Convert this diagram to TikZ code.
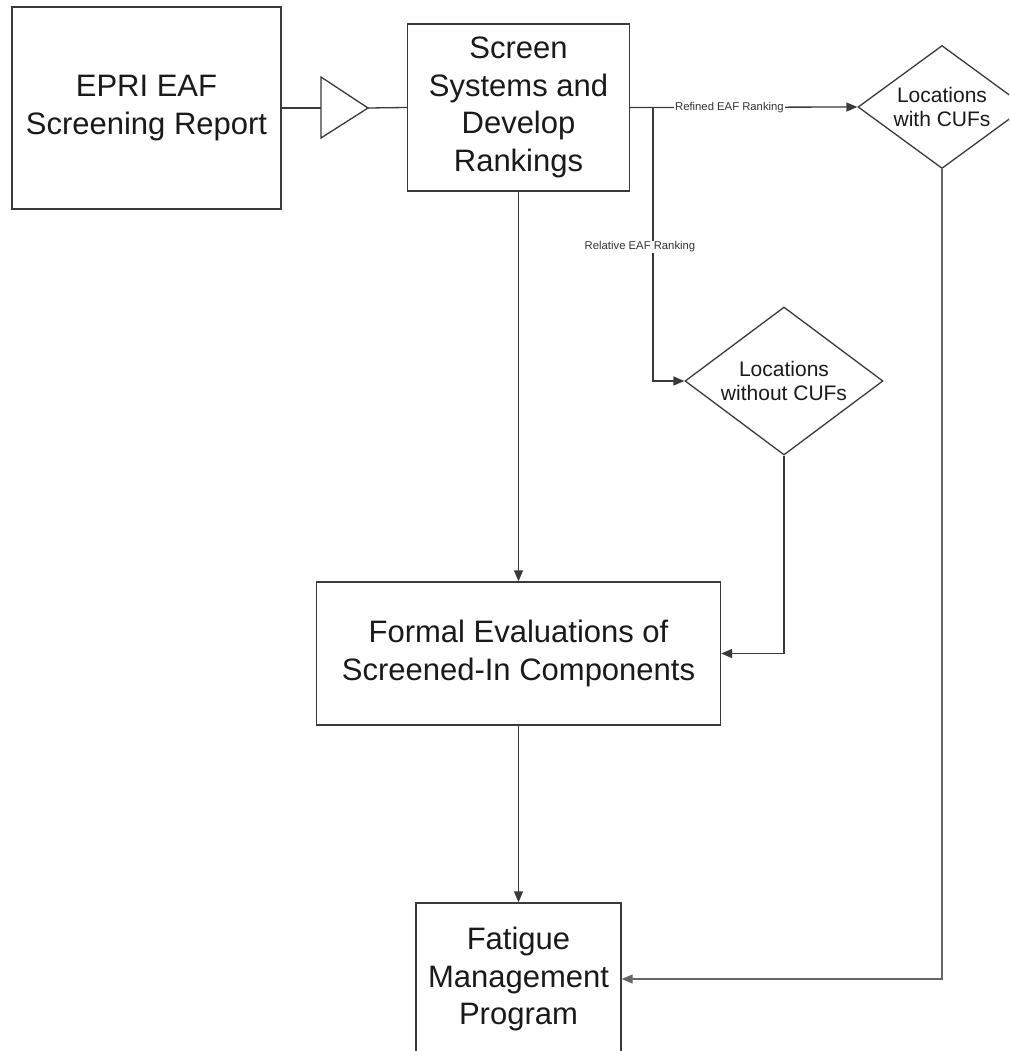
\documentclass[tikz,border=0pt]{standalone}
\usepackage{fontspec}
\setmainfont{Liberation Sans}
\usetikzlibrary{shapes.geometric,arrows.meta}
\definecolor{linec}{HTML}{3A3A3A}
\definecolor{textc}{HTML}{1A1A1A}
\begin{document}
\begin{tikzpicture}[x=1pt,y=-1pt,
  every node/.style={text=textc},
  bigbox/.style={draw=linec,line width=1.3pt,rectangle,inner sep=0pt,align=center,
    font=\fontsize{31}{37.5}\selectfont},
  dia/.style={draw=linec,line width=1.3pt,diamond,aspect=1.35,inner sep=0pt,align=center,
    font=\fontsize{21}{24.5}\selectfont},
  conn/.style={draw=linec,line width=1.3pt},
  arr/.style={conn,-{Triangle[length=11pt,width=9pt]}},
  lbl/.style={fill=white,inner sep=1pt,font=\fontsize{11.3}{13}\selectfont,text=black!80}]
\clip (0,0) rectangle (1009,1051);
\fill[white] (0,0) rectangle (1009,1051);

\node[bigbox,minimum width=269pt,minimum height=202pt] (epri) at (146.5,108) {EPRI EAF\\Screening Report};
\node[bigbox,minimum width=222pt,minimum height=167pt] (screen) at (518.5,107.5) {Screen\\Systems and\\Develop\\Rankings};
\node[dia,minimum width=168pt,minimum height=123pt] (d1) at (942,107) {Locations\\with CUFs};
\node[dia,minimum width=198pt,minimum height=148pt] (d2) at (784,381) {Locations\\without CUFs};
\node[bigbox,minimum width=404pt,minimum height=143pt] (formal) at (518.5,653.5) {Formal Evaluations of\\Screened-In Components};
\node[bigbox,minimum width=205pt,minimum height=152pt] (fatigue) at (518.5,979) {Fatigue\\Management\\Program};

% triangle on the first connector
\coordinate (triin) at (321,108);
\coordinate (triout) at (368,108);
\draw[conn,line join=miter] (321,77) -- (triout) -- (321,138) -- cycle;
\draw[conn] (epri.east) -- (triin);
\draw[conn] (triout) -- (screen.west);

% refined ranking
\draw[arr] (screen.east) -- node[lbl,pos=0.437] {Refined EAF Ranking} (d1.west);
% relative ranking branch
\coordinate (br) at (653,108);
\draw[arr] (br) |- node[lbl,pos=0.2546,xshift=-13pt] {Relative EAF Ranking} (d2.west);

\draw[arr] (screen.south) -- (formal.north);
\draw[arr] (d2.south) |- (formal.east);
\draw[arr] (formal.south) -- (fatigue.north);
\draw[arr,draw=black!60] (d1.south) |- (fatigue.east);
\end{tikzpicture}
\end{document}
